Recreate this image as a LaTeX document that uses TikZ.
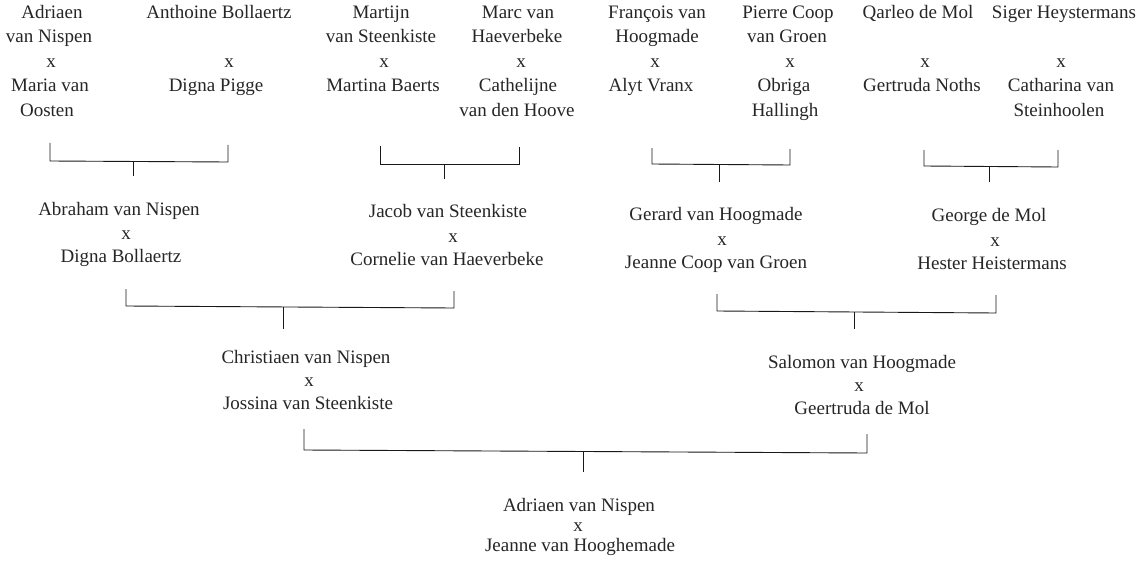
\documentclass[tikz,border=0pt]{standalone}
\usepackage{fontspec}
\setmainfont{Liberation Serif}
\begin{document}
\begin{tikzpicture}[x=1pt,y=-1pt,
  t/.style={anchor=base, inner sep=0pt, font=\fontsize{19}{23}\selectfont, text=black!85},
  br/.style={draw=black!90, line width=0.9pt}]
\useasboundingbox[fill=white] (0,0) rectangle (1148,567);
% ---------- generation 1 ----------
\node[t] (h1a) at (52,18.5) {Adriaen};
\node[t] (h1b) at (49,43) {van Nispen};
\node[t] (x1)  at (51,67.5) {x};
\node[t] (w1a) at (50,92) {Maria van};
\node[t] (w1b) at (47,116.5) {Oosten};

\node[t] (h2a) at (219,18.5) {Anthoine Bollaertz};
\node[t] (x2)  at (229,67.5) {x};
\node[t] (w2a) at (216,92) {Digna Pigge};

\node[t] (h3a) at (381,18.5) {Martijn};
\node[t] (h3b) at (381,43) {van Steenkiste};
\node[t] (x3)  at (384,67.5) {x};
\node[t] (w3a) at (383,92) {Martina Baerts};

\node[t] (h4a) at (518,18.5) {Marc van};
\node[t] (h4b) at (517,43) {Haeverbeke};
\node[t] (x4)  at (521,67.5) {x};
\node[t] (w4a) at (518,92) {Cathelijne};
\node[t] (w4b) at (517,116.5) {van den Hoove};

\node[t] (h5a) at (657,18.5) {François van};
\node[t] (h5b) at (657,43) {Hoogmade};
\node[t] (x5)  at (655,67.5) {x};
\node[t] (w5a) at (651,92) {Alyt Vranx};

\node[t] (h6a) at (788,18.5) {Pierre Coop};
\node[t] (h6b) at (787,43) {van Groen};
\node[t] (x6)  at (790,67.5) {x};
\node[t] (w6a) at (784,92) {Obriga};
\node[t] (w6b) at (785,116.5) {Hallingh};

\node[t] (h7a) at (918,18.5) {Qarleo de Mol};
\node[t] (x7)  at (925,67.5) {x};
\node[t] (w7a) at (922,92) {Gertruda Noths};

\node[t] (h8a) at (1064,18.5) {Siger Heystermans};
\node[t] (x8)  at (1061,67.5) {x};
\node[t] (w8a) at (1061,92) {Catharina van};
\node[t] (w8b) at (1059,116.5) {Steinhoolen};
% ---------- generation 2 ----------
\node[t] (h9)  at (119,215) {Abraham van Nispen};
\node[t] (x9)  at (126,239) {x};
\node[t] (w9)  at (121,262.5) {Digna Bollaertz};

\node[t] (h10) at (448,217.5) {Jacob van Steenkiste};
\node[t] (x10) at (453,242) {x};
\node[t] (w10) at (447,265.5) {Cornelie van Haeverbeke};

\node[t] (h11) at (716,220.5) {Gerard van Hoogmade};
\node[t] (x11) at (722,245) {x};
\node[t] (w11) at (716,268.5) {Jeanne Coop van Groen};

\node[t] (h12) at (989,221.5) {George de Mol};
\node[t] (x12) at (995,246.5) {x};
\node[t] (w12) at (992,269.5) {Hester Heistermans};
% ---------- generation 3 ----------
\node[t] (h13) at (306,363) {Christiaen van Nispen};
\node[t] (x13) at (309,386) {x};
\node[t] (w13) at (308,409) {Jossina van Steenkiste};

\node[t] (h14) at (862,368) {Salomon van Hoogmade};
\node[t] (x14) at (859,391.5) {x};
\node[t] (w14) at (862,414.5) {Geertruda de Mol};
% ---------- generation 4 ----------
\node[t] (h15) at (579,511) {Adriaen van Nispen};
\node[t] (x15) at (578,531) {x};
\node[t] (w15) at (580,551) {Jeanne van Hooghemade};
% ---------- brackets ----------
\coordinate (s1) at (133,176); \coordinate (s2) at (444,179);
\coordinate (s3) at (719,182); \coordinate (s4) at (989,182);
\coordinate (s5) at (283,329); \coordinate (s6) at (854,329);
\coordinate (s7) at (583,472);
\draw[br] (50,143) -- (50,161) -- (228,162) -- (228,145);
\draw[br] (s1 |- 0,161.5) -- (s1);
\draw[br] (380,146) -- (380,164) -- (519,164) -- (519,147);
\draw[br] (s2 |- 0,164) -- (s2);
\draw[br] (652,148) -- (652,164) -- (790,165) -- (790,149);
\draw[br] (s3 |- 0,164.5) -- (s3);
\draw[br] (924,150) -- (924,166) -- (1058,167) -- (1058,150);
\draw[br] (s4 |- 0,166.5) -- (s4);
\draw[br] (126,289) -- (126,306) -- (454,308) -- (454,291);
\draw[br] (s5 |- 0,307) -- (s5);
\draw[br] (717,294) -- (717,311) -- (996,313) -- (996,295);
\draw[br] (s6 |- 0,312) -- (s6);
\draw[br] (304,429) -- (304,450) -- (867,453) -- (867,434);
\draw[br] (s7 |- 0,451.5) -- (s7);
\end{tikzpicture}
\end{document}
